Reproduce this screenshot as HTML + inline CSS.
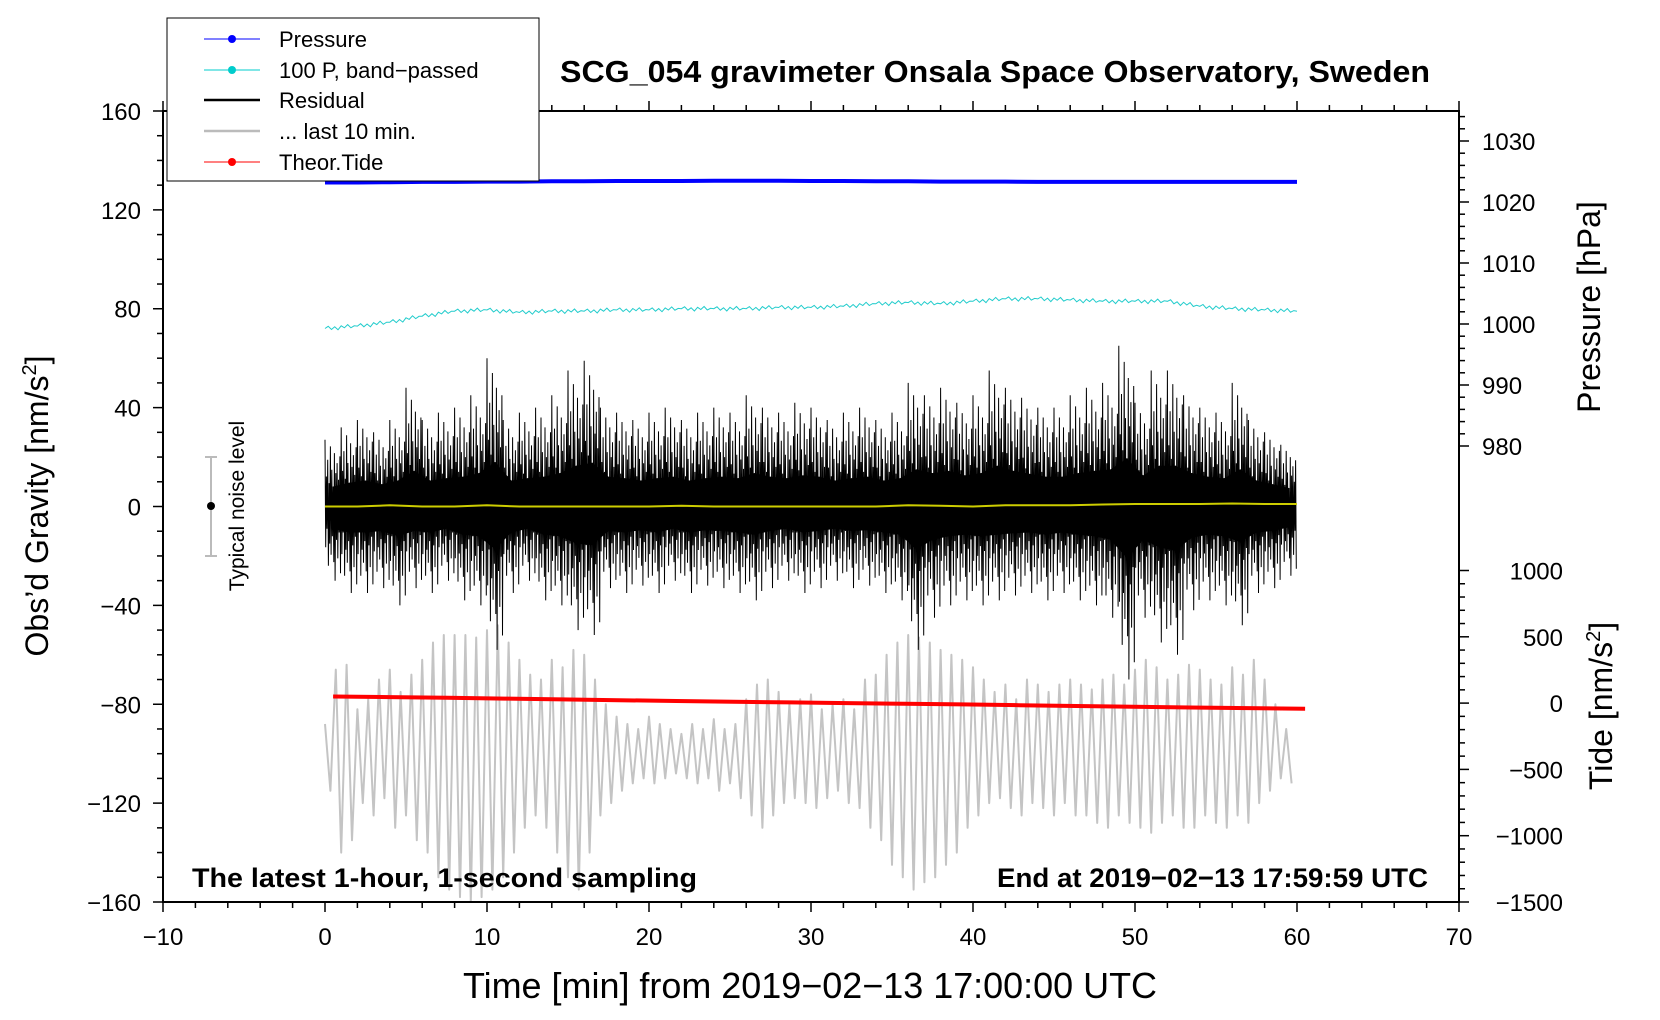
<!DOCTYPE html>
<html><head><meta charset="utf-8"><style>
html,body{margin:0;padding:0;background:#fff;}
svg{display:block;font-family:"Liberation Sans",sans-serif;}
</style></head><body>
<svg id="chart" width="1660" height="1020" viewBox="0 0 1660 1020" xmlns="http://www.w3.org/2000/svg">
<rect x="0" y="0" width="1660" height="1020" fill="#fff"/>
<g id="marks"></g>
<g id="axes"></g>
<text x="560" y="82" font-size="31" font-weight="bold" textLength="870" lengthAdjust="spacingAndGlyphs">SCG_054 gravimeter Onsala Space Observatory, Sweden</text>
<text transform="translate(48,506) rotate(-90)" font-size="32" text-anchor="middle">Obs’d Gravity [nm/s<tspan font-size="20" dy="-12">2</tspan><tspan dy="12">]</tspan></text>
<text transform="translate(1600,307) rotate(-90)" font-size="32" text-anchor="middle">Pressure [hPa]</text>
<text transform="translate(1612,706) rotate(-90)" font-size="32" text-anchor="middle">Tide [nm/s<tspan font-size="20" dy="-12">2</tspan><tspan dy="12">]</tspan></text>
<text x="463" y="998" font-size="36" textLength="694" lengthAdjust="spacingAndGlyphs">Time [min] from 2019−02−13 17:00:00 UTC</text>
<text x="192" y="887" font-size="27" font-weight="bold" textLength="505" lengthAdjust="spacingAndGlyphs">The latest 1-hour, 1-second sampling</text>
<text x="997" y="887" font-size="27" font-weight="bold" textLength="431" lengthAdjust="spacingAndGlyphs">End at 2019−02−13 17:59:59 UTC</text>
<g>
<line x1="211" y1="457" x2="211" y2="556" stroke="#bbb" stroke-width="2"/>
<line x1="205" y1="457" x2="217" y2="457" stroke="#bbb" stroke-width="2"/>
<line x1="205" y1="556" x2="217" y2="556" stroke="#bbb" stroke-width="2"/>
<circle cx="211" cy="506" r="4" fill="#000"/>
<text transform="translate(244,506) rotate(-90)" font-size="21" text-anchor="middle">Typical noise level</text>
</g>
<g>
<rect x="167" y="18" width="372" height="163" fill="#fff" stroke="#000" stroke-width="1"/>
<g><line x1="204" y1="39" x2="260" y2="39" stroke="#00f" stroke-width="1"/><circle cx="232" cy="39" r="4" fill="#00f"/><text x="279" y="47" font-size="22">Pressure</text></g>
<g><line x1="204" y1="70" x2="260" y2="70" stroke="#0cc" stroke-width="1"/><circle cx="232" cy="70" r="4" fill="#0cc"/><text x="279" y="78" font-size="22">100 P, band−passed</text></g>
<g><line x1="204" y1="100" x2="260" y2="100" stroke="#000" stroke-width="2.5"/><text x="279" y="108" font-size="22">Residual</text></g>
<g><line x1="204" y1="131" x2="260" y2="131" stroke="#bbb" stroke-width="2.5"/><text x="279" y="139" font-size="22">... last 10 min.</text></g>
<g><line x1="204" y1="162" x2="260" y2="162" stroke="#f00" stroke-width="1"/><circle cx="232" cy="162" r="4" fill="#f00"/><text x="279" y="170" font-size="22">Theor.Tide</text></g>
</g>
</svg>
<script>
// ---- data ----
const xTicks = [-10,0,10,20,30,40,50,60,70];
const yTicks = [-160,-120,-80,-40,0,40,80,120,160];
const pTicks = [980,990,1000,1010,1020,1030];
const tideTicks = [-1500,-1000,-500,0,500,1000];
const pressureVals = [1023.2,1023.2,1023.25,1023.3,1023.3,1023.35,1023.35,1023.4,1023.4,1023.45,1023.45,1023.45,1023.5,1023.5,1023.5,1023.45,1023.45,1023.4,1023.4,1023.35,1023.35,1023.35,1023.3,1023.3,1023.3,1023.3,1023.3,1023.3,1023.3,1023.3,1023.3];
const bandPassed = [72,73,74.5,77,79,79.5,78.5,79,79,79.5,79.5,80,80,80,80.5,80.5,81,82,82.5,82,83,84,84,83.5,83,83,83,81,80,79.5,79];
const residualHi = [27,32,35,30,35,48,35,38,40,45,60,35,38,40,45,55,59,40,38,35,38,40,35,38,40,38,45,40,38,42,40,35,38,40,35,38,50,45,48,42,45,55,48,44,40,40,45,48,50,65,42,55,55,45,40,38,50,35,30,25];
const residualLo = [-30,-35,-35,-33,-40,-33,-35,-30,-38,-40,-58,-35,-30,-38,-40,-50,-52,-33,-35,-32,-35,-30,-35,-32,-33,-35,-38,-33,-30,-35,-33,-30,-33,-32,-35,-38,-58,-45,-40,-38,-40,-38,-36,-35,-38,-35,-38,-40,-45,-70,-45,-55,-60,-42,-38,-40,-48,-35,-33,-28];
const yellowVals = [0,0,0.5,0,0,0.5,0,0,0,0,0,0.3,0,0,0,0,0,0,0.5,0.3,0,0.5,0.5,0.5,0.8,1,1,1,1.2,1,1];
const grayPeaks = [-88,-66,-64,-82,-78,-70,-66,-75,-68,-62,-55,-52,-52,-52,-53,-50,-48,-55,-62,-68,-70,-62,-65,-58,-60,-70,-80,-85,-88,-90,-85,-88,-90,-92,-88,-90,-86,-90,-88,-78,-72,-70,-75,-80,-78,-76,-82,-80,-78,-82,-70,-68,-60,-55,-52,-53,-55,-58,-60,-62,-65,-70,-75,-72,-78,-70,-72,-75,-72,-70,-72,-74,-70,-68,-72,-66,-62,-65,-70,-68,-64,-66,-70,-72,-65,-68,-62,-70,-80,-90];
const grayTroughs = [-115,-140,-135,-120,-125,-118,-130,-125,-135,-140,-150,-155,-158,-160,-158,-155,-150,-140,-130,-125,-130,-140,-150,-155,-140,-125,-120,-115,-112,-110,-112,-110,-108,-110,-112,-110,-115,-112,-118,-125,-130,-125,-120,-118,-120,-122,-118,-115,-120,-122,-130,-135,-145,-150,-155,-152,-150,-145,-140,-130,-125,-120,-118,-122,-125,-120,-122,-125,-120,-125,-125,-128,-130,-125,-128,-130,-132,-128,-125,-130,-130,-125,-128,-130,-125,-128,-120,-115,-110,-112];
const tideVals = [50,45,40,34,28,22,16,10,5,0,-5,-10,-16,-22,-28,-33,-38,-42];

// ---- axes functions ----
const X = t => 325 + t*16.2;
const Y = v => 506.5 - v*2.4719;
const P = p => 141 + (1030-p)*6.1;
const T = v => 902 - (v+1500)*0.1326;
const NS = 'http://www.w3.org/2000/svg';
const marks = document.getElementById('marks');
const axes = document.getElementById('axes');
function mk(tag, attrs, parent){const e=document.createElementNS(NS,tag);for(const k in attrs)e.setAttribute(k,attrs[k]);parent.appendChild(e);return e;}

// pressure
let d = pressureVals.map((p,i)=>(i?'L':'M')+X(i*2).toFixed(1)+','+P(p).toFixed(1)).join('');
let e = mk('path',{d:d,fill:'none',stroke:'#00f','stroke-width':4},marks);



// band-passed
const jit=[0,0.8,-0.6,0.4,-0.9,0.6,-0.3,0.9,-0.5,0.2];
let pts=[];
for(let i=0;i<bandPassed.length-1;i++){for(let j=0;j<10;j++){const f=j/10;const v=bandPassed[i]*(1-f)+bandPassed[i+1]*f+jit[j];pts.push(X(i*2+f*2).toFixed(1)+','+Y(v).toFixed(1));}}
pts.push(X(60).toFixed(1)+','+Y(bandPassed[30]).toFixed(1));
e = mk('polyline',{points:pts.join(' '),fill:'none',stroke:'#2cc','stroke-width':1},marks);



// gray last 10 min
pts=[];
for(let k=0;k<grayPeaks.length;k++){const t=k*60/90;pts.push(X(t).toFixed(1)+','+Y(grayPeaks[k]).toFixed(1));pts.push(X(t+1/3).toFixed(1)+','+Y(grayTroughs[k]).toFixed(1));}
e = mk('polyline',{points:pts.join(' '),fill:'none',stroke:'#c4c4c4','stroke-width':2,'stroke-linejoin':'round'},marks);



// residual
const pat=[1,0.45,0.7,0.35,0.9,0.55,0.3,0.8,0.5,0.65,0.4,0.75];
pts=[];
for(let i=0;i<residualHi.length;i++){for(let j=0;j<12;j++){const t=i+j/12;pts.push(X(t).toFixed(1)+','+Y(residualHi[i]*pat[j]).toFixed(1));pts.push(X(t+1/24).toFixed(1)+','+Y(residualLo[i]*pat[(j+5)%12]).toFixed(1));}}
e = mk('polyline',{points:pts.join(' '),fill:'none',stroke:'#000','stroke-width':1},marks);


let band='';
for(let i=0;i<residualHi.length;i++) band+=(i?'L':'M')+X(i+0.5).toFixed(1)+','+Y(residualHi[i]*0.3).toFixed(1);
for(let i=residualLo.length-1;i>=0;i--) band+='L'+X(i+0.5).toFixed(1)+','+Y(residualLo[i]*0.3).toFixed(1);
e = mk('path',{d:band+'Z',fill:'#000'},marks);



// yellow
d = yellowVals.map((v,i)=>(i?'L':'M')+X(i*2).toFixed(1)+','+Y(v).toFixed(1)).join('');
e = mk('path',{d:d,fill:'none',stroke:'#cc0','stroke-width':2},marks);



// tide
d = tideVals.map((v,i)=>(i?'L':'M')+X(0.5+i*60/(tideVals.length-1)).toFixed(1)+','+T(v).toFixed(1)).join('');
e = mk('path',{d:d,fill:'none',stroke:'#f00','stroke-width':4},marks);



// frame
e = mk('rect',{x:X(-10),y:Y(160),width:X(70)-X(-10),height:Y(-160)-Y(160),fill:'none',stroke:'#000','stroke-width':2},axes);



// x ticks
for(let t=-10;t<=70;t+=2){const maj=t%10===0;
 mk('line',{x1:X(t),x2:X(t),y1:Y(-160),y2:Y(-160)+(maj?10:6),stroke:'#000','stroke-width':1.5},axes);
 mk('line',{x1:X(t),x2:X(t),y1:Y(160),y2:Y(160)-(maj?10:6),stroke:'#000','stroke-width':1.5},axes);}
xTicks.forEach(t=>{const l=mk('text',{x:X(t),y:945,'font-size':24,'text-anchor':'middle'},axes);l.textContent=(t<0?'−':'')+Math.abs(t);
 
 });
// y ticks
for(let v=-160;v<=160;v+=10){const maj=v%40===0;mk('line',{x1:X(-10),x2:X(-10)-(maj?10:6),y1:Y(v),y2:Y(v),stroke:'#000','stroke-width':1.5},axes);}
yTicks.forEach(v=>{const l=mk('text',{x:141,y:Y(v)+9,'font-size':24,'text-anchor':'end'},axes);l.textContent=(v<0?'−':'')+Math.abs(v);
 
 });
// pressure ticks
for(let p=980;p<=1034;p+=2){const maj=p%10===0;mk('line',{x1:X(70),x2:X(70)+(maj?10:6),y1:P(p),y2:P(p),stroke:'#000','stroke-width':1.5},axes);}
pTicks.forEach(p=>{const l=mk('text',{x:1482,y:P(p)+9,'font-size':24},axes);l.textContent=p;
 
 });
// tide ticks
for(let v=-1500;v<=1000;v+=100){const maj=v%500===0;mk('line',{x1:X(70),x2:X(70)+(maj?10:6),y1:T(v),y2:T(v),stroke:'#000','stroke-width':1.5},axes);}
tideTicks.forEach(v=>{const l=mk('text',{x:1563,y:T(v)+9,'font-size':24,'text-anchor':'end'},axes);l.textContent=(v<0?'−':'')+Math.abs(v);
 
 });
</script>
</body></html>
